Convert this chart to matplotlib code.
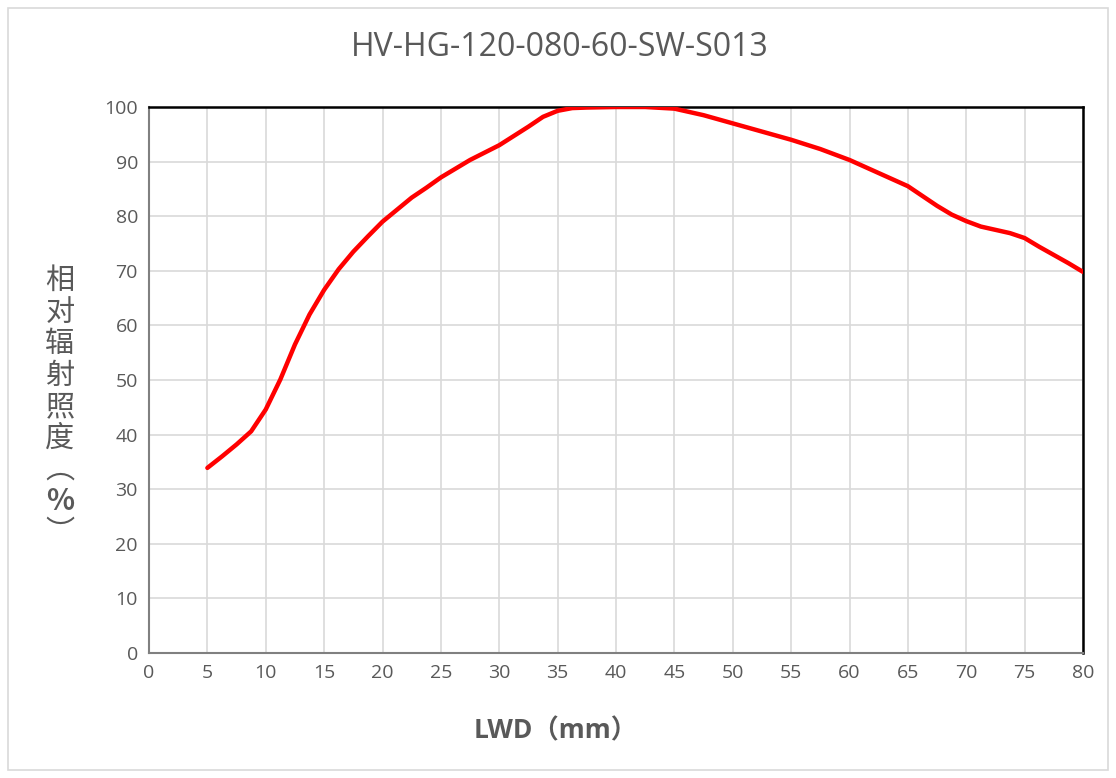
import matplotlib
matplotlib.use("Agg")
import matplotlib.pyplot as plt
from matplotlib.patches import Rectangle

# LWD (mm) vs relative irradiance (%)
lwd = [5, 6.25, 7.5, 8.75, 10, 11.25, 12.5, 13.75, 15, 16.25, 17.5, 18.75,
       20, 21.25, 22.5, 23.75, 25, 27.5, 30, 32.5, 33.75, 35, 36.25, 37.5, 40,
       42.5, 45, 47.5, 50, 52.5, 55, 57.5, 60, 62.5,
       65, 66.25, 67.5, 68.75, 70, 71.25, 72.5, 73.75, 75, 76.25, 77.5, 78.75, 80]
irr = [33.9, 36.0, 38.2, 40.6, 44.6, 50.1, 56.5, 62.0, 66.5, 70.3, 73.5, 76.3,
       79.0, 81.2, 83.4, 85.2, 87.1, 90.3, 93.0, 96.4, 98.2, 99.3, 99.8, 99.9, 100.0,
       100.0, 99.7, 98.5, 97.0, 95.5, 94.0, 92.3, 90.3, 87.9,
       85.5, 83.7, 81.9, 80.3, 79.1, 78.1, 77.5, 76.9, 76.0, 74.4, 72.9, 71.4, 69.8]

xticks = list(range(0, 85, 5))
yticks = list(range(0, 110, 10))

title = "HV-HG-120-080-60-SW-S013"
xlabel = "LWD（mm）"
ylabel_chars = ["相", "对", "辐", "射", "照", "度", "︵", "%", "︶"]

grey = "#595959"
plt.rcParams['font.family'] = ['Open Sans', 'Noto Sans CJK SC', 'DejaVu Sans']

fig = plt.figure(figsize=(11.16, 7.78), dpi=100)
ax = fig.add_axes([149/1116, 1 - 653/778, (1083-149)/1116, (653-107)/778])

ax.plot(lwd, irr, color="#ff0000", lw=3.2, solid_capstyle="round",
        solid_joinstyle="round", zorder=3)

ax.set_xlim(0, 80)
ax.set_ylim(0, 100)
ax.set_xticks(xticks)
ax.set_yticks(yticks)
ax.tick_params(length=0, labelsize=14, labelcolor=grey, pad=8)
ax.grid(True, color="#d9d9d9", lw=1.2)
ax.set_axisbelow(True)

for s in ["left", "bottom"]:
    ax.spines[s].set_color("#808080")
    ax.spines[s].set_linewidth(1.5)
for s in ["top", "right"]:
    ax.spines[s].set_color("black")
    ax.spines[s].set_linewidth(1.8)

fig.text(560/1116, 1 - 48/778, title, ha="center", va="center", fontsize=23, color=grey)
fig.text(556/1116, 1 - 731/778, xlabel, ha="center", va="center", fontsize=19,
         fontweight="bold", color=grey, family=['Open Sans', 'Noto Sans CJK SC'])

y0 = 281
for i, ch in enumerate(ylabel_chars):
    fw = "bold" if ch == "%" else "normal"
    fig.text(60/1116, 1 - (y0 + i * 31.5)/778, ch, ha="center", va="center", fontsize=21,
             color=grey, fontweight=fw, family=['Noto Sans CJK SC', 'DejaVu Sans'])

fig.patches.append(Rectangle((8/1116, 8/778), 1100/1116, 762/778, transform=fig.transFigure,
                             fill=False, edgecolor="#d9d9d9", lw=1.2))

fig.savefig("out.png", dpi=100)
